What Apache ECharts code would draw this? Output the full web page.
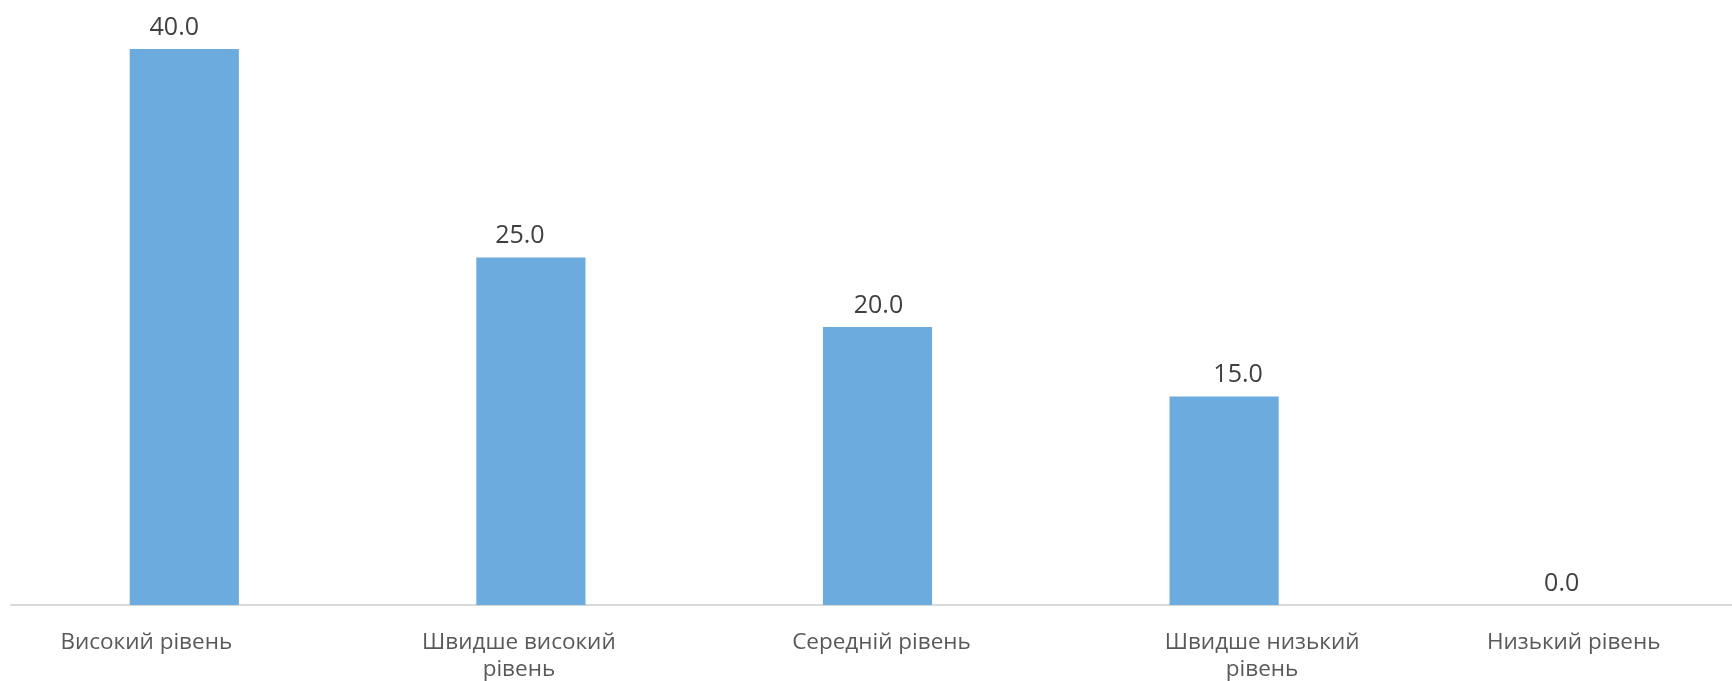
<!DOCTYPE html>
<html>
<head>
<meta charset="utf-8">
<script src="https://cdn.jsdelivr.net/npm/echarts@6/dist/echarts.min.js"></script>
<style>
html,body{margin:0;padding:0;background:#fff;}
#chart{width:1732px;height:681px;}
</style>
</head>
<body>
<div id="chart"></div>
<script>
const categories = ['Високий рівень', 'Швидше високий\nрівень', 'Середній рівень', 'Швидше низький\nрівень', 'Низький рівень'];
const values = [40.0, 25.0, 20.0, 15.0, 0.0];

// horizontal nudges of the text, as seen in the reference (style only)
const categoryLabelShift = [-38, -12, 4, 38, 3];
const valueLabelShift = [-10, -11, 1, 14, -9];

const chart = echarts.init(document.getElementById('chart'), null, {renderer: 'canvas'});

function padFor(shift) {
  return shift < 0 ? [0, -2 * shift, 0, 0] : [0, 0, 0, 2 * shift];
}

chart.setOption({
  animation: false,
  backgroundColor: '#ffffff',
  grid: {left: 11, width: 1733, top: 49, bottom: 76, containLabel: false, outerBoundsMode: 'none'},
  xAxis: {
    type: 'category',
    data: categories.map((c, i) => ({value: c, textStyle: {padding: padFor(categoryLabelShift[i])}})),
    axisLine: {show: true, lineStyle: {color: '#D9D9D9', width: 2}},
    axisTick: {show: false},
    axisLabel: {
      interval: 0,
      color: '#595959',
      fontFamily: 'Open Sans',
      fontSize: 22.5,
      lineHeight: 27,
      margin: 24,
      hideOverlap: false
    }
  },
  yAxis: {
    type: 'value',
    min: 0,
    max: 40,
    show: false,
    splitLine: {show: false}
  },
  series: [{
    type: 'bar',
    barWidth: '31.5%',
    itemStyle: {color: '#6CABDD'},
    data: values.map((v, i) => ({value: v, label: {padding: padFor(valueLabelShift[i])}})),
    label: {
      show: true,
      position: 'top',
      distance: 9,
      color: '#404040',
      fontFamily: 'Open Sans',
      fontSize: 25,
      formatter: p => p.value.toFixed(1)
    }
  }]
});
</script>
</body>
</html>
